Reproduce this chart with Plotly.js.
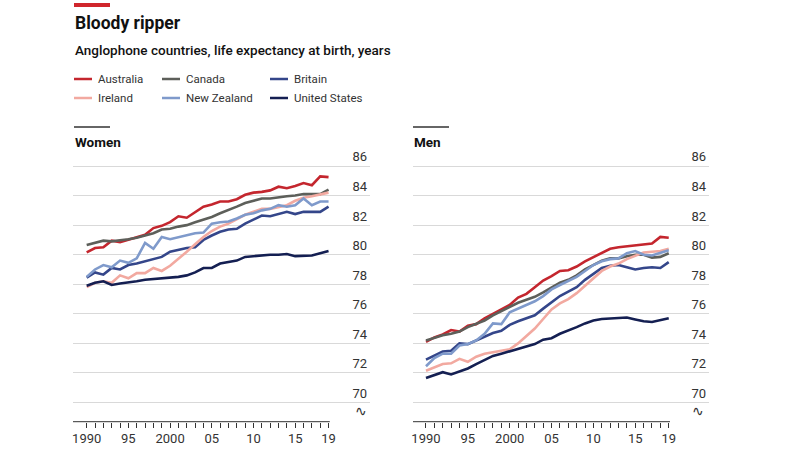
<!DOCTYPE html>
<html>
<head>
<meta charset="utf-8">
<script src="https://cdn.plot.ly/plotly-3.0.1.min.js"></script>
<style>html,body{margin:0;padding:0;background:#fff;}#chart{width:810px;height:456px;}</style>
</head>
<body>
<div id="chart"></div>
<script>
// ---------- DATA ----------
const years = [1990,1991,1992,1993,1994,1995,1996,1997,1998,1999,2000,2001,2002,2003,2004,2005,2006,2007,2008,2009,2010,2011,2012,2013,2014,2015,2016,2017,2018,2019];
const tickYears = [1990,1995,2000,2005,2010,2015,2019];
const tickLabels = ["1990","95","2000","05","10","15","19"];
const yTicks = [70,72,74,76,78,80,82,84,86];
const countries = ["Australia","Canada","Britain","Ireland","New Zealand","United States"];

const womenAustralia = [80.15,80.45,80.5,80.95,80.85,81.0,81.2,81.35,81.8,81.95,82.2,82.6,82.5,82.9,83.25,83.4,83.6,83.6,83.75,84.05,84.2,84.25,84.35,84.6,84.5,84.65,84.85,84.7,85.3,85.25];
const womenCanada    = [80.65,80.8,80.95,80.9,80.95,81.05,81.15,81.3,81.45,81.7,81.75,81.9,82.0,82.2,82.35,82.55,82.8,83.0,83.25,83.5,83.65,83.8,83.8,83.9,83.95,84.0,84.1,84.1,84.1,84.4];
const womenBritain   = [78.45,78.8,78.65,79.1,79.0,79.3,79.4,79.55,79.65,79.85,80.2,80.35,80.45,80.5,81.0,81.3,81.55,81.7,81.75,82.1,82.35,82.65,82.6,82.75,82.9,82.75,82.9,82.9,82.9,83.25];
const womenIreland   = [77.8,78.1,78.2,78.1,78.6,78.4,78.75,78.75,79.1,78.9,79.25,79.7,80.2,80.7,81.2,81.6,81.9,82.1,82.4,82.7,82.9,83.1,83.1,83.25,83.35,83.65,83.85,83.95,84.05,84.2];
const womenNZ        = [78.5,79.0,79.3,79.15,79.6,79.45,79.75,80.8,80.4,81.2,81.05,81.2,81.35,81.45,81.5,82.1,82.2,82.25,82.45,82.7,82.8,83.0,83.1,83.35,83.25,83.35,83.8,83.35,83.6,83.6];
const womenUS        = [77.9,78.1,78.2,77.95,78.05,78.1,78.2,78.3,78.35,78.4,78.4,78.5,78.6,78.8,79.1,79.1,79.4,79.5,79.6,79.85,79.9,80.0,80.0,80.0,80.05,79.9,79.9,79.95,80.1,80.25];

const menAustralia = [74.1,74.4,74.6,74.9,74.8,75.2,75.3,75.7,76.0,76.3,76.6,77.1,77.35,77.8,78.25,78.55,78.9,78.95,79.2,79.55,79.85,80.15,80.4,80.5,80.55,80.65,80.65,80.75,81.2,81.15];
const menCanada    = [74.2,74.4,74.55,74.65,74.8,75.1,75.3,75.55,75.9,76.2,76.45,76.75,76.95,77.15,77.45,77.8,78.1,78.3,78.6,79.0,79.3,79.6,79.75,79.75,79.9,80.0,80.0,79.8,79.85,80.1];
const menBritain   = [72.9,73.15,73.45,73.5,74.0,73.95,74.2,74.45,74.7,74.85,75.25,75.5,75.7,75.9,76.35,76.8,77.2,77.5,77.8,78.3,78.7,79.1,79.25,79.3,79.15,79.0,79.1,79.15,79.1,79.5];
const menIreland   = [72.15,72.35,72.6,72.65,72.95,72.75,73.1,73.3,73.4,73.45,73.6,74.0,74.5,75.0,75.65,76.3,76.7,77.0,77.4,77.9,78.4,78.9,79.2,79.4,79.7,79.95,80.15,80.2,80.25,80.4];
const menNZ        = [72.45,73.0,73.3,73.3,73.85,73.95,74.2,74.65,75.35,75.3,76.1,76.35,76.6,76.85,77.2,77.65,77.95,78.2,78.5,78.9,79.3,79.55,79.7,79.75,80.1,80.25,80.0,79.95,80.1,80.3];
const menUS        = [71.65,71.85,72.05,71.9,72.1,72.3,72.6,72.9,73.15,73.3,73.45,73.6,73.8,73.95,74.25,74.35,74.65,74.85,75.1,75.35,75.55,75.65,75.7,75.72,75.75,75.62,75.5,75.45,75.55,75.7];

// ---------- STYLE ----------
const colors = ["#c4262e","#5d5f5a","#34468a","#f2a9a0","#7f9acb","#141f52"];
const FONT = "Roboto, 'Liberation Sans', sans-serif";
const W = 810, H = 456;
const px = x => x / W;
const py = y => 1 - y / H;

const women = [womenAustralia, womenCanada, womenBritain, womenIreland, womenNZ, womenUS];
const men = [menAustralia, menCanada, menBritain, menIreland, menNZ, menUS];

const traces = [];
countries.forEach((c, i) => {
  traces.push({x: years, y: women[i], name: c, type: 'scatter', mode: 'lines',
    line: {color: colors[i], width: 2.6}, xaxis: 'x', yaxis: 'y', hoverinfo: 'x+y+name'});
});
countries.forEach((c, i) => {
  traces.push({x: years, y: men[i], name: c, type: 'scatter', mode: 'lines',
    line: {color: colors[i], width: 2.6}, xaxis: 'x2', yaxis: 'y2', hoverinfo: 'x+y+name'});
});

const tickText = years.map(y => { const k = tickYears.indexOf(y); return k >= 0 ? tickLabels[k] : ""; });

const xRangeW = [1988.36, 2023.97];
const xRangeM = [1988.45, 2023.81];
// plot area from y=140 px to y=421.7 px ; 14.75 px per year of life expectancy, 86 gridline at y=166
const yRange = [68.7, 87.76];
const plotBottom = py(421.7), plotTop = py(140);

function xAxis(domain, range, anchor) {
  return {domain: domain, range: range, anchor: anchor, tickmode: 'array', tickvals: years, ticktext: tickText,
    ticks: 'outside', ticklen: 5, tickwidth: 1, tickcolor: '#333', showgrid: false, zeroline: false, showline: false,
    tickfont: {family: FONT, size: 13, color: '#333'}, fixedrange: true, automargin: false};
}
function yAxis(anchor) {
  return {domain: [plotBottom, plotTop], range: yRange, anchor: anchor, side: 'right', ticklabelposition: 'inside top',
    tickmode: 'array', tickvals: yTicks, ticks: '', showgrid: true, gridcolor: '#d9d9d9', gridwidth: 1,
    zeroline: false, showline: false, tickfont: {family: FONT, size: 13, color: '#333'}, fixedrange: true, automargin: false};
}

const shapes = [
  {type: 'rect', xref: 'paper', yref: 'paper', x0: px(74), x1: px(110), y0: py(7), y1: py(3), fillcolor: '#d0262c', line: {width: 0}},
  {type: 'line', xref: 'paper', yref: 'paper', x0: px(74), x1: px(110), y0: py(127), y1: py(127), line: {color: '#333', width: 1.5}},
  {type: 'line', xref: 'paper', yref: 'paper', x0: px(413), x1: px(449), y0: py(127), y1: py(127), line: {color: '#333', width: 1.5}},
  {type: 'line', xref: 'x', yref: 'paper', x0: xRangeW[0], x1: years[years.length-1] + 0.15, y0: plotBottom, y1: plotBottom, line: {color: '#333', width: 1}},
  {type: 'line', xref: 'x2', yref: 'paper', x0: xRangeM[0], x1: years[years.length-1] + 0.15, y0: plotBottom, y1: plotBottom, line: {color: '#333', width: 1}}
];

const annotations = [
  {text: '<b>Bloody ripper</b>', x: px(73), y: py(23), xref: 'paper', yref: 'paper', xanchor: 'left', yanchor: 'middle', showarrow: false,
    font: {family: FONT, size: 17.5, color: '#111'}},
  {text: 'Anglophone countries, life expectancy at birth, years', x: px(73), y: py(50), xref: 'paper', yref: 'paper', xanchor: 'left', yanchor: 'middle', showarrow: false,
    font: {family: FONT, size: 13.5, color: '#111', weight: 500}},
  {text: '<b>Women</b>', x: px(73), y: py(142), xref: 'paper', yref: 'paper', xanchor: 'left', yanchor: 'middle', showarrow: false,
    font: {family: FONT, size: 13.5, color: '#111'}},
  {text: '<b>Men</b>', x: px(412), y: py(142), xref: 'paper', yref: 'paper', xanchor: 'left', yanchor: 'middle', showarrow: false,
    font: {family: FONT, size: 13.5, color: '#111'}},
  {text: '∿', x: px(361), y: py(411), xref: 'paper', yref: 'paper', xanchor: 'center', yanchor: 'middle', showarrow: false,
    font: {family: "'DejaVu Sans', sans-serif", size: 14, color: '#333'}},
  {text: '∿', x: px(698), y: py(411), xref: 'paper', yref: 'paper', xanchor: 'center', yanchor: 'middle', showarrow: false,
    font: {family: "'DejaVu Sans', sans-serif", size: 14, color: '#333'}}
];

// legend (3 columns x 2 rows) placement
const legX = [74, 162, 270];
const legY = [79, 98];
countries.forEach((c, i) => {
  const col = i % 3, row = Math.floor(i / 3);
  const x0 = legX[col], yy = legY[row];
  shapes.push({type: 'line', xref: 'paper', yref: 'paper', x0: px(x0), x1: px(x0 + 18), y0: py(yy), y1: py(yy),
    line: {color: colors[i], width: 2.5}});
  annotations.push({text: c, x: px(x0 + 22), y: py(yy), xref: 'paper', yref: 'paper', xanchor: 'left', yanchor: 'middle',
    showarrow: false, font: {family: FONT, size: 11.5, color: '#333'}});
});

const layout = {
  width: W, height: H, margin: {l: 0, r: 0, t: 0, b: 0}, paper_bgcolor: '#fff', plot_bgcolor: '#fff',
  showlegend: false, font: {family: FONT, color: '#333'},
  xaxis: xAxis([px(73), px(370)], xRangeW, 'y'),
  yaxis: yAxis('x'),
  xaxis2: xAxis([px(413), px(709)], xRangeM, 'y2'),
  yaxis2: yAxis('x2'),
  shapes: shapes, annotations: annotations
};

Plotly.newPlot('chart', traces, layout, {displayModeBar: false, staticPlot: true});
</script>
</body>
</html>
